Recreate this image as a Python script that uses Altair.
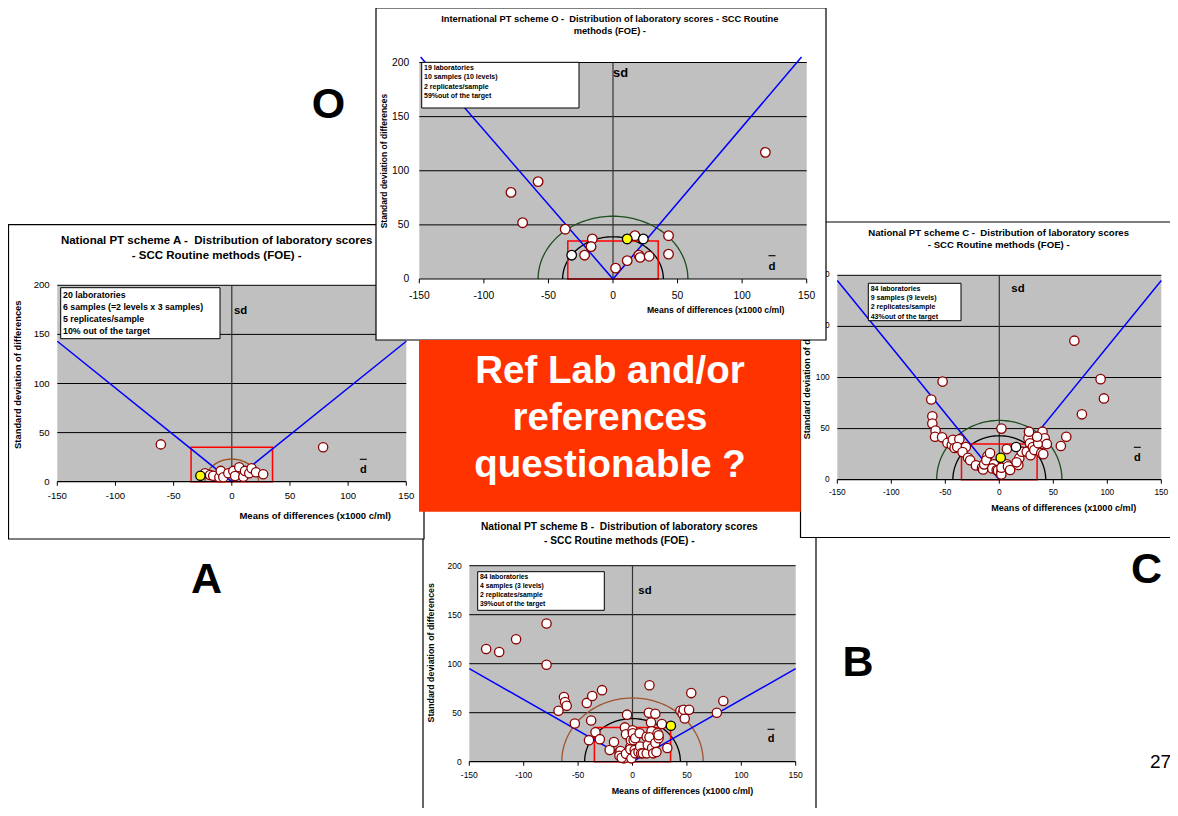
import altair as alt
import pandas as pd

# ---------------- shared axis values ----------------
X_DOMAIN = [-150, 150]
Y_DOMAIN = [0, 200]
X_TICKS = [-150, -100, -50, 0, 50, 100, 150]
Y_TICKS = [0, 50, 100, 150, 200]
GRID_Y = [50, 100, 150, 200]
TARGET_X = [-35, 35]
TARGET_SD = [35]
X_TITLE = "Means of differences (x1000 c/ml)"
Y_TITLE = "Standard deviation of differences"
SD_LABEL = "sd"
DBAR_LABEL = "d"

# ---------------- scheme O ----------------
O_TITLE = ["International PT scheme O -\u00a0 Distribution of laboratory scores - SCC Routine",
           "methods (FOE) -"]
O_INFO = ["19 laboratories", "10 samples (10 levels)", "2 replicates/sample", "59%out of the target"]
O_X = [118, -58, -79, -70, -37, -16, -17, -22, 2, 11, 17, 20, 21, 28, 43, 43]
O_Y = [117, 90, 80, 52, 46, 37, 30, 22, 10, 17, 40, 22, 20, 21, 40, 23]
O_BLACK_X = [-32, 23.5]
O_BLACK_Y = [22, 37]
O_REF_X = [11]
O_REF_Y = [37]
O_ARCS = [39, 58]
O_V_X = [-149, 0, 146]
O_V_Y = [205, 0, 205]

# ---------------- scheme A ----------------
A_TITLE = ["National PT scheme A -\u00a0 Distribution of laboratory scores",
           "- SCC Routine methods (FOE) -"]
A_INFO = ["20 laboratories", "6 samples (=2 levels x 3 samples)", "5 replicates/sample",
          "10% out of the target"]
A_X = [-61, 78.5, -23, -18.7, -16, -10.7, -9.5, -7.3, -3, 1.3, 2.8, 6.4, 9.9, 11.3, 15, 17, 20.8, 27]
A_Y = [38, 35, 8.6, 6.8, 6, 4.5, 11, 4.5, 8.6, 11, 5.8, 14.7, 5.1, 11, 8.6, 13.6, 9.6, 7.5]
A_BLACK_X = []
A_BLACK_Y = []
A_REF_X = [-27]
A_REF_Y = [6]
A_ARCS = [23]
A_V_X = [-150, 0, 150]
A_V_Y = [143, 0, 143]

# ---------------- scheme C ----------------
C_TITLE = ["National PT scheme C -\u00a0 Distribution of laboratory scores",
           "- SCC Routine methods (FOE) -"]
C_INFO = ["84 laboratories", "9 samples (9 levels)", "2 replicates/sample", "43%out of the target"]
C_X = [69.5, 93.8, 96.9, 76.5, -52.5, -63, -62, -62, -59, -59.5, -53, -48, -44, -43, -41.4, -37,
       -39, -31, -34, -29, -27, -21.6, -16, -15, -14, -11, -12, -8.6, -5, -6.5, -2.4, -1.2, 2, 2,
       1.9, 5, 7, 2, 7, 8, 10, 18.5, 17.6, 16, 20.7, 27, 28.4, 25.4, 29, 31, 32.4, 36, 38.9, 40,
       42, 44, 40.7, 35, 57, 62, 27.5]
C_Y = [136, 98.4, 79.5, 64, 96, 78.5, 62, 55, 48, 42, 41.5, 36, 34, 39, 31, 39.5,
       32, 32, 27, 21.5, 19, 14, 11.7, 10, 15, 23, 19, 26, 15, 11, 9.5, 9.1, 50, 8,
       5.2, 12.7, 15, 11.7, 30, 13, 9.5, 21, 14.4, 17, 27.4, 40.5, 35.6, 27.4, 24, 32, 29, 35.6, 26, 47,
       40.5, 35, 25, 42, 33, 42, 47]
C_BLACK_X = [15.5]
C_BLACK_Y = [32]
C_REF_X = [1.3]
C_REF_Y = [21.5]
C_ARCS = [43, 58]
C_V_X = [-150, 0, 150]
C_V_Y = [195, 0, 195]

# ---------------- scheme B ----------------
B_TITLE = ["National PT scheme B -\u00a0 Distribution of laboratory scores",
           "- SCC Routine methods (FOE) -"]
B_INFO = ["84 laboratories", "4 samples (3 levels)", "2 replicates/sample", "39%out of the target"]
B_X = [-134.5, -122.5, -107, -79, -79, -68, -63, -62, -60.5, -53, -42, -37, -28,
       -38, -40, -34, -30, -21, -17, -12, -11, -12, -8, -10, -6, -7, -6, -5, -2, -2, -1.5, -1,
       0, 0.3, 1, 2, 2.5, 2.5, 5.5, 6.5, 7, 8, 9.5, 13, 13, 14, 15.6, 15, 21, 17, 17.5, 15.6,
       18, 19, 21, 22, 23, 24, 24, 27, 32, 44, 46, 48, 47, 52, 54, 77.5, 83.5]
B_Y = [115, 112, 125, 141, 99, 52, 66, 61, 57, 39, 60, 67, 73,
       42, 22, 30, 23, 12, 20, 10, 11, 6, 3.4, 4, 8, 35, 28, 48, 15, 12.6, 22, 3.4,
       32, 29, 22, 12, 24, 8.5, 10, 29, 15.5, 8.5, 8.5, 25.5, 8.5, 17, 78, 50, 49, 40, 31, 25,
       14, 8.5, 19, 10, 29, 24, 27, 38.5, 14, 52, 49, 44, 53, 53, 70, 50, 62]
B_BLACK_X = []
B_BLACK_Y = []
B_REF_X = [35.3]
B_REF_Y = [36.7]
B_ARCS = [44, 65]
B_V_X = [-150, 0, 150]
B_V_Y = [95, 0, 95]

BANNER = ["Ref Lab and/or", "references", "questionable ?"]
LETTERS = ["O", "A", "B", "C"]
PAGE = "27"

# ---------------- layout / styles (pixels in chart coordinates) ----------------
L_O = dict(xr=[411.3, 798.7], yr=[271, 54.5], frame=[368, 0, 818, 332],
           title=[601.8, 11, 12, 9.3], box=[413.7, 54.3, 571, 100], info=[416, 60, 9.3, 7],
           sd=[605, 65, 12.9], dbar=[764, 258.7, 247.7, 11.5],
           tick_fs=10.3, xlab_dy=16.7, ylab_dx=10, ticklen=4.3,
           xt=[707.7, 302.3, 8.65], yt=[376.3, 153, 8.5],
           arc_colors=["#000000", "#1E4D1E"], psize=92)
L_A = dict(xr=[49.3, 398.3], yr=[473.7, 277.3], frame=[0.5, 216.7, 416, 531],
           title=[208.7, 233.3, 14.4, 11.5], box=[52.7, 279.7, 212, 330.7], info=[55, 286.7, 12, 8.8],
           sd=[226, 303.3, 11.4], dbar=[355.3, 462, 451.3, 11],
           tick_fs=9.6, xlab_dy=14, ylab_dx=7.6, ticklen=4,
           xt=[307.2, 508, 9.5], yt=[9.7, 366.7, 9.4],
           arc_colors=["#9C4A1A"], psize=86)
L_C = dict(xr=[829.3, 1153.3], yr=[471.7, 267.3], frame=[792.5, 214, 1180, 529.5],
           title=[990.7, 225, 12.3, 9.6], box=[860.3, 275.3, 953, 312.7], info=[862.7, 280.7, 9.3, 7],
           sd=[1003.3, 281, 11.4], dbar=[1129.3, 449.7, 439.3, 11],
           tick_fs=8.3, xlab_dy=13, ylab_dx=7.6, ticklen=4,
           xt=[1055.7, 499.7, 9.1], yt=[799, 360, 9],
           arc_colors=["#000000", "#1E4D1E"], psize=88)
L_B = dict(xr=[461.3, 787.7], yr=[753.7, 557.7], frame=[415, 502, 808, 830],
           title=[611.3, 519, 13.7, 10.2], box=[469.7, 563.7, 596.3, 602.3], info=[472, 569, 8.9, 6.8],
           sd=[630.3, 583.3, 11.4], dbar=[763, 731.3, 721.3, 11],
           tick_fs=8.5, xlab_dy=13.6, ylab_dx=7.6, ticklen=4,
           xt=[674.5, 783, 8.9], yt=[422.5, 644.8, 8.8],
           arc_colors=["#000000", "#A0522D"], psize=86)

FONT = "Liberation Sans"
ONE = alt.Data(values=[{"k": 0}])


def panel(title, info, xs_, ys_, bx, by, rx, ry, arcs, vx, vy, L):
    xs = alt.Scale(domain=X_DOMAIN, range=L["xr"], nice=False, zero=False)
    ys = alt.Scale(domain=Y_DOMAIN, range=L["yr"], nice=False, zero=False)

    def X(f):
        return alt.X(f, type="quantitative", scale=xs, axis=None)

    def Y(f):
        return alt.Y(f, type="quantitative", scale=ys, axis=None)

    layers = []
    f = L["frame"]
    layers.append(alt.Chart(ONE).mark_rect(fill="white", stroke="black", strokeWidth=1.2).encode(
        x=alt.value(f[0]), x2=alt.value(f[2]), y=alt.value(f[1]), y2=alt.value(f[3])))
    bg = pd.DataFrame({"x0": [X_DOMAIN[0]], "x1": [X_DOMAIN[1]], "y0": [Y_DOMAIN[0]], "y1": [Y_DOMAIN[1]]})
    layers.append(alt.Chart(bg).mark_rect(fill="#C0C0C0").encode(x=X("x0"), x2="x1", y=Y("y0"), y2="y1"))
    grid = pd.DataFrame({"g": GRID_Y, "a": X_DOMAIN[0], "b": X_DOMAIN[1]})
    layers.append(alt.Chart(grid).mark_rule(color="black", strokeWidth=1).encode(
        y=Y("g"), x=X("a"), x2="b"))
    zl = pd.DataFrame({"x": [0], "y0": [Y_DOMAIN[0]], "y1": [Y_DOMAIN[1]]})
    layers.append(alt.Chart(zl).mark_rule(color="#333333", strokeWidth=1.2).encode(
        x=X("x"), y=Y("y0"), y2="y1"))
    for r, col in zip(arcs, L["arc_colors"]):
        layers.append(alt.Chart(alt.sequence(0, 181, 2, as_="a")).transform_calculate(
            ax=f"{r}*cos(datum.a*PI/180)", ay=f"{r}*sin(datum.a*PI/180)"
        ).mark_line(color=col, strokeWidth=1.3).encode(x=X("ax"), y=Y("ay"), order="a:Q"))
    tgt = pd.DataFrame({"x0": [TARGET_X[0]], "x1": [TARGET_X[1]], "y0": [0], "y1": TARGET_SD})
    layers.append(alt.Chart(tgt).mark_rect(fillOpacity=0, stroke="#FF0000", strokeWidth=1.5).encode(
        x=X("x0"), x2="x1", y=Y("y0"), y2="y1"))
    vdf = pd.DataFrame({"x": vx, "y": vy, "i": list(range(len(vx)))})
    layers.append(alt.Chart(vdf).mark_line(color="#0000FF", strokeWidth=1.5).encode(
        x=X("x"), y=Y("y"), order="i:Q"))
    # x axis line and ticks
    ax = pd.DataFrame({"a": [X_DOMAIN[0]], "b": [X_DOMAIN[1]], "z": [0]})
    layers.append(alt.Chart(ax).mark_rule(color="black", strokeWidth=1.2).encode(
        x=X("a"), x2="b", y=Y("z")))
    tk = pd.DataFrame({"v": X_TICKS, "z": 0, "lab": [str(v) for v in X_TICKS]})
    layers.append(alt.Chart(tk).mark_point(shape="M0,0L0,1", size=4 * L["ticklen"] ** 2, filled=False,
                                           color="black", strokeWidth=1, opacity=1).encode(
        x=X("v"), y=Y("z")))
    layers.append(alt.Chart(tk).mark_text(font=FONT, fontSize=L["tick_fs"], baseline="middle",
                                          align="center", dy=L["xlab_dy"], color="black").encode(
        x=X("v"), y=Y("z"), text="lab:N"))
    yl = pd.DataFrame({"v": Y_TICKS, "a": X_DOMAIN[0], "lab": [str(v) for v in Y_TICKS]})
    layers.append(alt.Chart(yl).mark_text(font=FONT, fontSize=L["tick_fs"], baseline="middle",
                                          align="right", dx=-L["ylab_dx"], color="black").encode(
        x=X("a"), y=Y("v"), text="lab:N"))
    # points
    ps = L["psize"]
    pts = pd.DataFrame({"x": xs_, "y": ys_})
    layers.append(alt.Chart(pts).mark_circle(size=ps, fill="white", stroke="#8B0000", strokeWidth=1.3,
                                             opacity=1).encode(x=X("x"), y=Y("y")))
    if bx:
        bpts = pd.DataFrame({"x": bx, "y": by})
        layers.append(alt.Chart(bpts).mark_circle(size=ps, fill="white", stroke="black", strokeWidth=1.3,
                                                  opacity=1).encode(x=X("x"), y=Y("y")))
    rpts = pd.DataFrame({"x": rx, "y": ry})
    layers.append(alt.Chart(rpts).mark_circle(size=ps, fill="#FFFF00", stroke="black", strokeWidth=1.3,
                                              opacity=1).encode(x=X("x"), y=Y("y")))
    # info box
    b = L["box"]
    layers.append(alt.Chart(ONE).mark_rect(fill="white", stroke="black", strokeWidth=1).encode(
        x=alt.value(b[0]), x2=alt.value(b[2]), y=alt.value(b[1]), y2=alt.value(b[3])))
    i = L["info"]
    layers.append(alt.Chart(ONE).mark_text(text=info, font=FONT, fontSize=i[3], fontWeight="bold",
                                           align="left", baseline="middle", lineHeight=i[2],
                                           color="black").encode(x=alt.value(i[0]), y=alt.value(i[1])))
    # sd / d-bar labels
    s = L["sd"]
    layers.append(alt.Chart(ONE).mark_text(text=SD_LABEL, font=FONT, fontSize=s[2], fontWeight="bold",
                                           align="left", baseline="middle", color="black").encode(
        x=alt.value(s[0]), y=alt.value(s[1])))
    d = L["dbar"]
    layers.append(alt.Chart(ONE).mark_text(text=DBAR_LABEL, font=FONT, fontSize=d[3], fontWeight="bold",
                                           align="center", baseline="middle", color="black").encode(
        x=alt.value(d[0]), y=alt.value(d[1])))
    layers.append(alt.Chart(ONE).mark_rule(color="black", strokeWidth=1.1).encode(
        x=alt.value(d[0] - 3.5), x2=alt.value(d[0] + 3.5), y=alt.value(d[2])))
    # axis titles
    t = L["xt"]
    layers.append(alt.Chart(ONE).mark_text(text=X_TITLE, font=FONT, fontSize=t[2], fontWeight="bold",
                                           align="center", baseline="middle", color="black").encode(
        x=alt.value(t[0]), y=alt.value(t[1])))
    t = L["yt"]
    layers.append(alt.Chart(ONE).mark_text(text=Y_TITLE, font=FONT, fontSize=t[2], fontWeight="bold",
                                           align="center", baseline="middle", angle=270,
                                           color="black").encode(x=alt.value(t[0]), y=alt.value(t[1])))
    # chart title
    t = L["title"]
    layers.append(alt.Chart(ONE).mark_text(text=title, font=FONT, fontSize=t[3], fontWeight="bold",
                                           align="center", baseline="middle", lineHeight=t[2],
                                           color="black").encode(x=alt.value(t[0]), y=alt.value(t[1])))
    return alt.layer(*layers)


pB = panel(B_TITLE, B_INFO, B_X, B_Y, B_BLACK_X, B_BLACK_Y, B_REF_X, B_REF_Y, B_ARCS, B_V_X, B_V_Y, L_B)
pA = panel(A_TITLE, A_INFO, A_X, A_Y, A_BLACK_X, A_BLACK_Y, A_REF_X, A_REF_Y, A_ARCS, A_V_X, A_V_Y, L_A)
pC = panel(C_TITLE, C_INFO, C_X, C_Y, C_BLACK_X, C_BLACK_Y, C_REF_X, C_REF_Y, C_ARCS, C_V_X, C_V_Y, L_C)
pO = panel(O_TITLE, O_INFO, O_X, O_Y, O_BLACK_X, O_BLACK_Y, O_REF_X, O_REF_Y, O_ARCS, O_V_X, O_V_Y, L_O)

overlay = [
    alt.Chart(ONE).mark_rect(fill="#FF3300").encode(
        x=alt.value(411), x2=alt.value(792.7), y=alt.value(332), y2=alt.value(503.7)),
    alt.Chart(ONE).mark_text(text=BANNER, font=FONT, fontSize=38.5, fontWeight="bold", color="white",
                             align="center", baseline="alphabetic", lineHeight=46.7).encode(
        x=alt.value(602), y=alt.value(375.3)),
]
LETTER_POS = [(320.5, 97), (198.5, 572), (850, 654.5), (1138.5, 562)]
for letter, (lx, ly) in zip(LETTERS, LETTER_POS):
    overlay.append(alt.Chart(ONE).mark_text(text=letter, font=FONT, fontSize=43, fontWeight="bold",
                                            color="black", align="center", baseline="middle").encode(
        x=alt.value(lx), y=alt.value(ly)))
overlay.append(alt.Chart(ONE).mark_text(text=PAGE, font=FONT, fontSize=19, color="black",
                                        align="center", baseline="middle").encode(
    x=alt.value(1152.5), y=alt.value(754)))

chart = alt.layer(pB, pA, pC, pO, *overlay).resolve_scale(
    x="independent", y="independent"
).properties(
    width=1162, height=800, padding=0,
    autosize=alt.AutoSizeParams(type="none"), background="white"
).configure(font=FONT).configure_view(stroke=None)

chart.save("out.html", embed_options={"renderer": "svg", "actions": False})
